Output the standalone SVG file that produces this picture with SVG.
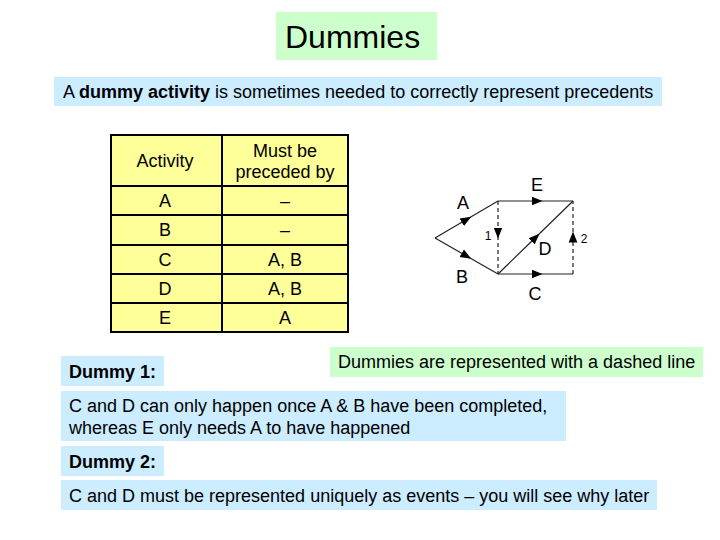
<svg xmlns="http://www.w3.org/2000/svg" width="720" height="540" viewBox="0 0 720 540">
<style>
text{font-family:"Liberation Sans",Arial,sans-serif;font-size:18px;fill:#000}
.c{text-anchor:middle}
.b{font-weight:bold}
.blue{fill:#CCECFF}
.green{fill:#CCFFCC}
.grid{stroke:#000;stroke-width:2;fill:none}
.edge{stroke:#222;stroke-width:1.2;fill:none;marker-mid:url(#ah)}
.dash{stroke-dasharray:4,3}
.small{font-size:12px}
</style>
<defs>
<marker id="ah" viewBox="0 0 10 10" refX="5" refY="5" markerWidth="11" markerHeight="11" markerUnits="userSpaceOnUse" orient="auto">
<path d="M0,1 L10,5 L0,9 Z" fill="#000"/>
</marker>
</defs>
<rect width="720" height="540" fill="#fff"/>
<g id="title">
<rect class="green" x="276" y="12" width="161" height="48"/>
<text x="285" y="48" style="font-size:32px">Dummies</text>
</g>
<g id="subtitle">
<rect class="blue" x="54" y="77" width="608" height="29"/>
<text x="63" y="98">A <tspan class="b">dummy activity</tspan> is sometimes needed to correctly represent precedents</text>
</g>
<g id="table">
<rect x="111" y="135" width="237" height="197" fill="#FFFF99"/>
<rect class="grid" x="111" y="135" width="237" height="197"/>
<line class="grid" x1="222" y1="135" x2="222" y2="332"/>
<line class="grid" x1="111" y1="186" x2="348" y2="186"/>
<line class="grid" x1="111" y1="215" x2="348" y2="215"/>
<line class="grid" x1="111" y1="245" x2="348" y2="245"/>
<line class="grid" x1="111" y1="274" x2="348" y2="274"/>
<line class="grid" x1="111" y1="303" x2="348" y2="303"/>
<text class="c" x="165" y="167">Activity</text>
<text class="c" x="285" y="157">Must be</text>
<text class="c" x="285" y="178">preceded by</text>
<text class="c" x="165" y="207">A</text><text class="c" x="285" y="207">–</text>
<text class="c" x="165" y="236">B</text><text class="c" x="285" y="236">–</text>
<text class="c" x="165" y="266">C</text><text class="c" x="285" y="266">A, B</text>
<text class="c" x="165" y="295">D</text><text class="c" x="285" y="295">A, B</text>
<text class="c" x="165" y="324">E</text><text class="c" x="285" y="324">A</text>
</g>
<g id="connectors">
<path class="edge" d="M435,238 L466.5,219.5 L498,201"/>
<path class="edge" d="M435,238 L466.5,256 L498,274"/>
<path class="edge dash" d="M498,201 L498,233 L498,274"/>
<path class="edge" d="M498,201 L537,201 L573,201"/>
<path class="edge" d="M498,274 L535.5,237.5 L573,201"/>
<path class="edge" d="M498,274 L537,274 L573,274"/>
<path class="edge dash" d="M573,274 L573,237 L573,201"/>
</g>
<g id="network-labels">
<text class="c" x="463" y="209">A</text>
<text class="c" x="462" y="283">B</text>
<text class="c" x="537" y="191">E</text>
<text class="c" x="545" y="255">D</text>
<text class="c" x="535" y="300">C</text>
<text class="c small" x="488" y="240">1</text>
<text class="c small" x="584" y="243">2</text>
</g>
<g id="dummy1-label">
<rect class="blue" x="61" y="356" width="103" height="30"/>
<text class="b" x="69" y="378">Dummy 1:</text>
</g>
<g id="dashed-note">
<rect class="green" x="330" y="347" width="373" height="30"/>
<text x="338" y="368">Dummies are represented with a dashed line</text>
</g>
<g id="dummy1-text">
<rect class="blue" x="61" y="391" width="505" height="50"/>
<text x="69" y="412">C and D can only happen once A &amp; B have been completed,</text>
<text x="69" y="434">whereas E only needs A to have happened</text>
</g>
<g id="dummy2-label">
<rect class="blue" x="61" y="446" width="103" height="30"/>
<text class="b" x="69" y="468">Dummy 2:</text>
</g>
<g id="dummy2-text">
<rect class="blue" x="61" y="480" width="596" height="30"/>
<text x="69" y="502">C and D must be represented uniquely as events – you will see why later</text>
</g>
</svg>
